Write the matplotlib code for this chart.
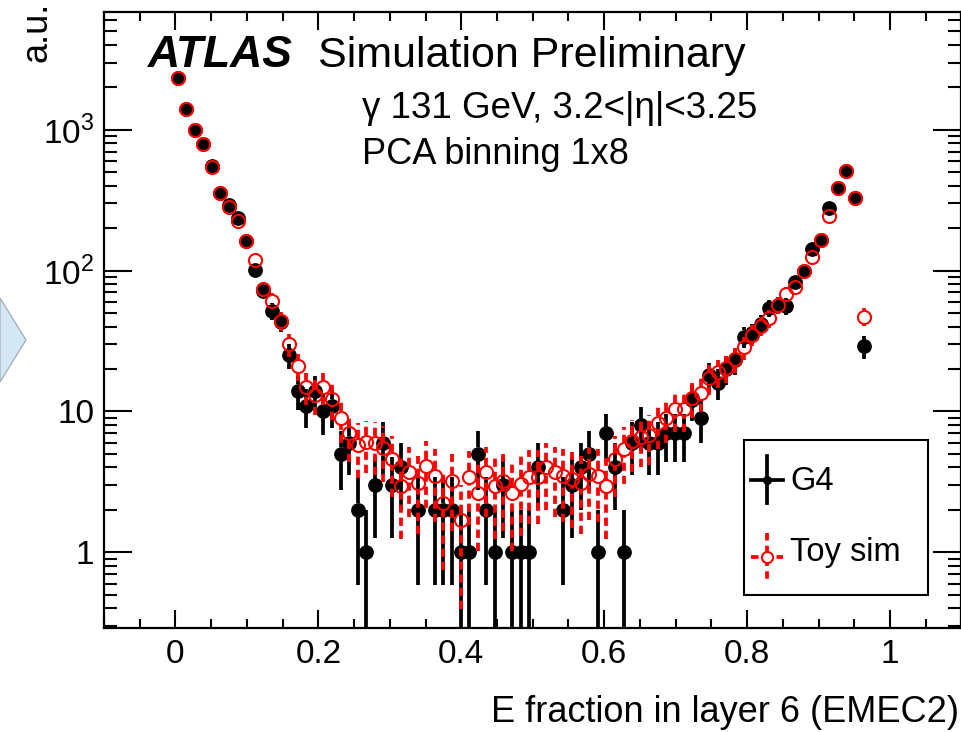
import numpy as np
import matplotlib
matplotlib.use('Agg')
import matplotlib.pyplot as plt
from matplotlib.ticker import FixedLocator, MultipleLocator, LogLocator, NullFormatter
from matplotlib.patches import Polygon, Rectangle
from matplotlib.lines import Line2D

plt.rcParams['font.family'] = ['Liberation Sans', 'DejaVu Sans']
plt.rcParams['mathtext.fontset'] = 'custom'
plt.rcParams['mathtext.rm'] = 'Liberation Sans'

# histogram binning of the energy fraction
n_bins = 81
bin_width = 0.012
first_centre = 0.003

# G4 bin contents (0 = empty bin)
g4_counts = [2316, 1400, 1000, 790, 556, 357, 291, 235, 163, 101,
             72, 52, 43, 25, 14, 11, 14, 10, 11, 5,
             6, 2, 1, 3, 6, 3, 4, 0, 2, 0,
             2, 2, 2, 1, 1, 5, 2, 1, 3, 1,
             1, 1, 4, 0, 0, 2, 3, 4, 5, 1,
             7, 4, 1, 6, 8, 6, 6, 7, 7, 7,
             12, 9, 18, 16, 20, 23, 34, 36, 42, 54,
             57, 56, 83, 100, 142, 165, 277, 384, 512, 330,
             29]

# toy simulation bin contents
toy_values = [2316, 1400, 1000, 790, 548, 357, 282, 226, 163, 119,
              74, 61, 44, 30, 21, 15, 13.1, 14.9, 12.2, 9.0,
              7.0, 5.8, 6.1, 6.0, 5.5, 4.6, 2.95, 3.7, 3.1, 4.1,
              3.5, 2.25, 3.2, 1.7, 3.4, 2.65, 3.7, 2.95, 3.2, 2.65,
              3.05, 3.45, 3.45, 4.0, 3.7, 3.5, 3.3, 3.1, 3.6, 3.5,
              2.97, 4.6, 5.4, 6.2, 6.6, 6.8, 8.3, 9.0, 10.4, 10.4,
              12.5, 13.5, 17.3, 18.9, 20.3, 23.5, 28.5, 35, 40.7, 46,
              57, 68, 77, 99.5, 124.5, 165, 245, 384, 512, 330,
              47]

W, H = 962, 732


def fx(px):
    return px / W


def fy(py):
    return 1 - py / H


x = first_centre + bin_width * np.arange(n_bins)
g4 = np.array(g4_counts, dtype=float)
g4[g4 <= 0] = np.nan
toy = np.array(toy_values, dtype=float)

fig = plt.figure(figsize=(W / 100, H / 100), dpi=100)
ax = fig.add_axes([fx(104), fy(628), fx(961.5) - fx(104), fy(12) - fy(628)])
ax.set_yscale('log')
ax.set_xlim(-0.1, 1.1)
ax.set_ylim(0.29, 6850)

# vertical error bars, leaving a gap where the marker sits
gap = 1.112
bar_lw = 2.7


def draw_bars(vals, color, style, z):
    err = np.sqrt(vals)
    up_lo = vals * gap
    up_hi = vals + err
    dn_hi = vals / gap
    dn_lo = np.maximum(vals - err, 1e-3)
    ok = np.isfinite(vals) & (up_hi > up_lo)
    ax.vlines(x[ok], up_lo[ok], up_hi[ok], colors=color, linewidth=bar_lw,
              linestyles=style, zorder=z)
    ok = np.isfinite(vals) & (dn_lo < dn_hi)
    ax.vlines(x[ok], dn_lo[ok], dn_hi[ok], colors=color, linewidth=bar_lw,
              linestyles=style, zorder=z)


draw_bars(g4, 'black', 'solid', 2)
ax.plot(x, g4, 'o', color='black', ms=9.6, zorder=3)
draw_bars(toy, 'red', (0, (2.2, 1.3)), 4)
ax.plot(x, toy, 'o', mfc='none', mec='red', mew=1.5, ms=9.4, zorder=5)

# axes styling
for s in ax.spines.values():
    s.set_linewidth(1.6)
ax.xaxis.set_minor_locator(MultipleLocator(0.05))
ax.set_xticks([0, 0.2, 0.4, 0.6, 0.8, 1.0])
ax.set_xticklabels(['0', '0.2', '0.4', '0.6', '0.8', '1'])
ax.yaxis.set_major_locator(FixedLocator([1, 10, 100, 1000]))
ax.set_yticklabels(['1', '10', '$10^{2}$', '$10^{3}$'])
ax.yaxis.set_minor_locator(LogLocator(base=10, subs=np.arange(2, 10)))
ax.yaxis.set_minor_formatter(NullFormatter())
ax.tick_params(which='both', direction='in', top=True, right=True,
               width=1.5, labelsize=24)
ax.tick_params(axis='y', which='major', length=20, pad=7)
ax.tick_params(axis='y', which='minor', length=9.5)
ax.tick_params(axis='x', which='major', length=13, pad=8)
ax.tick_params(axis='x', which='minor', length=6.5)

# labels and annotations
fig.text(fx(959), fy(712), 'E fraction in layer 6 (EMEC2)', ha='right',
         va='center', fontsize=26)
fig.text(fx(37), fy(2), 'a.u.', rotation=90, ha='center', va='top',
         fontsize=26)
fig.text(fx(148), fy(67), 'ATLAS', fontsize=32, fontweight='bold',
         fontstyle='italic', va='baseline')
fig.text(fx(318), fy(67), 'Simulation Preliminary', fontsize=31,
         va='baseline')
fig.text(fx(362), fy(118), '\u03b3 131 GeV, 3.2<|\u03b7|<3.25', fontsize=26.5,
         va='baseline')
fig.text(fx(362), fy(164), 'PCA binning 1x8', fontsize=26, va='baseline')

# legend box drawn by hand
fig.add_artist(Rectangle((fx(744), fy(595)), fx(928) - fx(744),
                         fy(440) - fy(595), transform=fig.transFigure,
                         fill=False, lw=1.5, ec='black'))
fig.add_artist(Line2D([fx(751), fx(783)], [fy(479.5)] * 2, color='black',
                      lw=bar_lw, transform=fig.transFigure))
fig.add_artist(Line2D([fx(767)] * 2, [fy(456), fy(503)], color='black',
                      lw=bar_lw, transform=fig.transFigure))
fig.add_artist(Line2D([fx(767)], [fy(479.5)], marker='o', color='black',
                      ms=5.5, transform=fig.transFigure))
fig.add_artist(Line2D([fx(751), fx(783)], [fy(556.7)] * 2, color='red',
                      lw=bar_lw, ls=(0, (2.0, 1.4)), transform=fig.transFigure))
fig.add_artist(Line2D([fx(767)] * 2, [fy(533), fy(580)], color='red',
                      lw=bar_lw, ls=(0, (2.0, 1.4)), transform=fig.transFigure))
fig.add_artist(Line2D([fx(767)], [fy(556.7)], marker='o', mfc='white',
                      mec='red', mew=1.5, ms=8, transform=fig.transFigure))
fig.text(fx(790), fy(481), 'G4', fontsize=23.5, va='center')
fig.text(fx(790), fy(553), 'Toy sim', fontsize=23.5, va='center')

# arrow shape at the left edge
fig.add_artist(Polygon([(fx(0), fy(298)), (fx(26), fy(340)), (fx(0), fy(382))],
                       closed=True, transform=fig.transFigure,
                       fc='#d2e6f4', ec='#9aa4ad', lw=0.8))

fig.savefig('out.png', dpi=100)
